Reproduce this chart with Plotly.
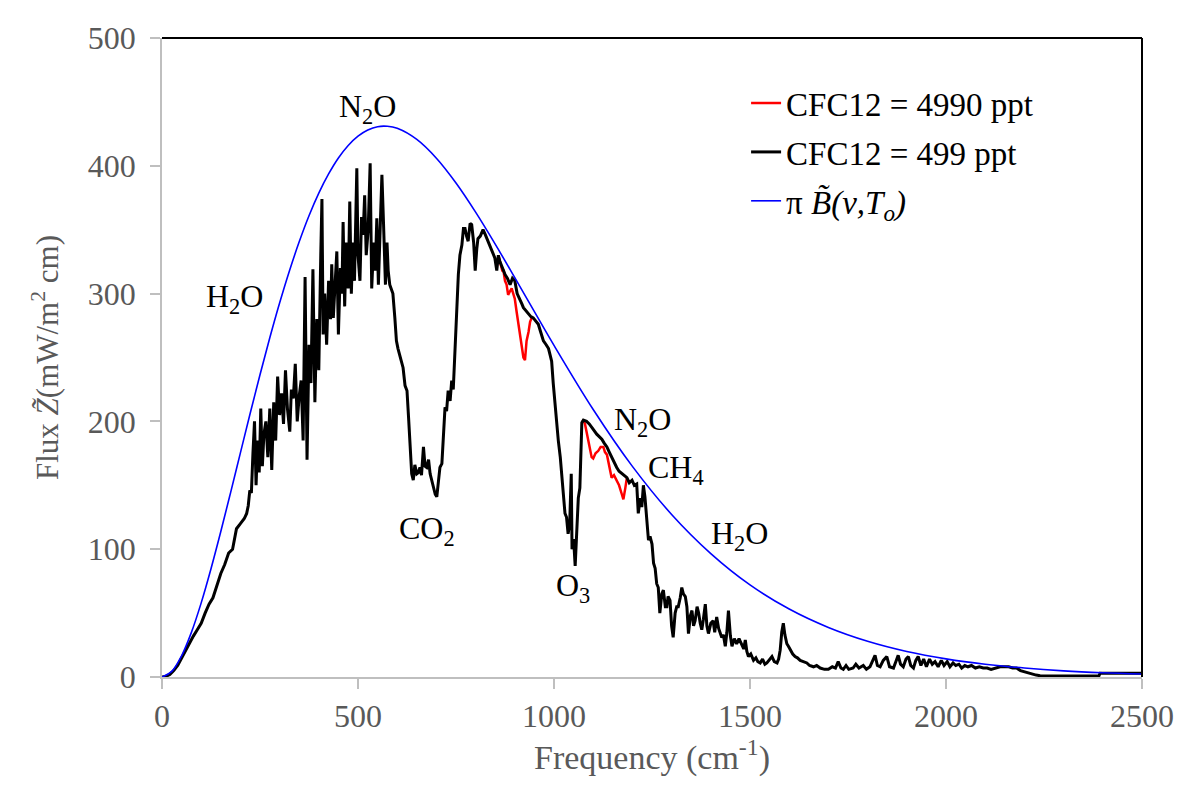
import plotly.graph_objects as go

# ---- data ----
wn_499 = [0,10,20,30,40,50,60,70,80,90,100,110,120,130,140,150,160,170,180,190,200,210,216,220,224,228,232,236,240,244,248,252,256,260,265,270,275,280,285,290,295,300,305,310,315,320,326,330,335,340,345,350,355,360,365,370,375,380,385,390,395,400,405,408,411,415,420,425,430,433,437,441,446,450,455,459,462,466,470,475,479,483,487,491,497,500,505,509,513,517,521,526,531,535,540,544,548,552,556,561,565,570,574,577,581,585,589,594,598,602,608,615,620,625,629,633,637,641,645,650,654,658,662,667,671,675,680,684,690,697,701,705,709,714,718,722,726,730,735,739,743,747,752,756,760,765,769,773,777,781,786,790,795,799,803,806,812,819,825,832,838,844,849,854,858,862,868,875,881,888,894,900,906,913,918,922,928,935,941,947,953,960,966,973,980,986,990,994,998,1003,1007,1011,1016,1020,1024,1028,1032,1036,1040,1044,1046,1050,1054,1058,1062,1066,1069,1071,1075,1083,1090,1096,1102,1109,1115,1122,1128,1135,1141,1147,1153,1160,1166,1173,1180,1186,1192,1199,1205,1211,1215,1220,1224,1228,1232,1236,1241,1245,1250,1254,1258,1262,1266,1270,1275,1279,1284,1288,1291,1296,1300,1304,1309,1313,1317,1322,1326,1330,1335,1339,1343,1348,1352,1356,1360,1365,1369,1373,1377,1381,1386,1390,1394,1400,1406,1410,1415,1420,1428,1432,1437,1441,1445,1450,1454,1460,1466,1472,1479,1484,1488,1492,1496,1502,1509,1515,1520,1526,1532,1538,1543,1550,1556,1562,1569,1573,1577,1581,1585,1589,1594,1598,1603,1609,1615,1621,1628,1635,1645,1652,1662,1670,1679,1690,1700,1710,1718,1725,1732,1738,1745,1752,1763,1770,1778,1789,1797,1806,1812,1819,1825,1832,1840,1849,1856,1866,1872,1878,1884,1891,1898,1904,1910,1917,1923,1929,1936,1943,1950,1958,1965,1972,1980,1988,1995,2003,2010,2018,2025,2033,2040,2048,2056,2065,2075,2085,2095,2105,2115,2125,2138,2150,2160,2170,2180,2190,2200,2210,2220,2230,2240,2300,2390,2393,2500]
flux_499 = [0,0.5,2,5,9,15,21,27,32,37,42,50,57,62,72,81,88,97,100,116,120,124,128,134,146,144,175,200,150,185,160,210,165,190,200,172,210,162,215,185,235,205,222,198,240,210,192,225,218,245,200,220,232,185,313,170,260,230,319,215,280,240,330,374,268,300,260,310,280,323,281,305,333,268,320,300,356,290,340,304,372,300,340,310,398,330,310,360,346,377,330,350,402,304,340,318,359,307,340,393,356,307,340,318,307,304,300,281,263,257,250,242,228,224,203,180,159,154,166,159,160,164,158,180,165,164,170,159,152,143,141,155,164,167,190,211,208,224,216,232,225,257,289,315,330,338,351,351,345,341,355,354,340,318,335,343,345,350,346,341,337,333,328,318,330,325,320,315,312,307,312,310,300,296,292,289,287,284,282,281,279,276,270,263,260,257,252,247,230,211,198,185,172,159,140,128,125,112,120,159,100,108,87,120,140,148,180,199,201,200,198,195,193,190,188,186,183,180,176,172,168,164,161,159,157,156,152,154,150,151,128,140,133,150,141,123,107,110,104,89,85,73,70,50,65,68,55,55,63,60,40,31,50,55,55,62,70,65,63,55,34,48,52,40,44,55,50,42,37,45,57,40,34,42,44,35,47,38,31,33,24,35,52,32,24,30,26,30,26,22,29,20,16,18,13,15,12,11,14,10,11,14,16,12,11,14,21,35,42,33,26,24,21,18,16,15,13,12,11,9,8,9,7,6,6,8,7,12,7,6,9,6,7,10,7,9,6,8,12,17,9,8,13,16,8,7,12,17,10,8,14,16,9,7,13,16,9,14,8,14,10,12,8,13,9,12,8,11,9,10,7,9,8,9,7,8,7,7,6,7,8,8,8,7,7,5,4,3,2,1.5,1,0.8,0.8,3,3]

# CFC12 = 4990 ppt: only where it departs from the 499 ppt curve
wn_4990 = [858,862,868,871,875,879,883,888,892,896,900,905,909,915,922,926,930,935,939,943,947,
           None,
           1071,1075,1079,1083,1087,1092,1096,1100,1106,1113,1119,1126,1130,1135,1141,1147,1153,1160,1166,1173,1177,1182,1186]
flux_4990 = [330,325,318,318,310,307,299,302,304,300,296,285,276,262,250,248,263,270,278,281,281,
             None,
             199,201,198,192,185,176,172,171,175,177,180,180,176,174,165,156,158,154,150,143,139,148,156]

# pi * B(nu, To) curve
wn_planck = [0,25,50,75,100,125,150,175,200,225,250,275,300,325,350,375,400,425,450,475,500,525,550,575,600,650,700,750,800,850,900,950,1000,1100,1200,1300,1400,1500,1600,1700,1800,1900,2000,2100,2200,2300,2400,2500]
flux_planck = [0,4.4,16.6,34.9,58,84.7,113.8,144.3,175.4,206.4,236.5,265.4,292.6,317.7,340.5,360.9,378.6,393.6,406.1,415.9,423.2,428,430.6,430.9,429.3,420.6,405.9,386.5,363.7,338.7,312.5,285.9,259.5,209.3,164.8,127.2,96.6,72.1,53.2,38.8,28,20,14.2,10,7,4.8,3.3,2.3]

x_ticks = [0, 500, 1000, 1500, 2000, 2500]
y_ticks = [0, 100, 200, 300, 400, 500]

labels = [
    ("N<sub>2</sub>O", 523, 445),
    ("H<sub>2</sub>O", 186, 296),
    ("CO<sub>2</sub>", 676, 115),
    ("O<sub>3</sub>", 1049, 70),
    ("N<sub>2</sub>O", 1225, 200),
    ("CH<sub>4</sub>", 1311, 162),
    ("H<sub>2</sub>O", 1474, 111),
]

FONT = "Liberation Serif, Times New Roman, serif"
GREY = "#595959"

fig = go.Figure()
fig.add_trace(go.Scatter(x=wn_4990, y=flux_4990, mode="lines", name="CFC12 = 4990 ppt",
                         line=dict(color="#ff0000", width=2.5), connectgaps=False, legendgroup="a"))
fig.add_trace(go.Scatter(x=wn_499, y=flux_499, mode="lines", name="CFC12 = 499 ppt",
                         line=dict(color="#000000", width=3), legendgroup="b"))
fig.add_trace(go.Scatter(x=wn_planck, y=flux_planck, mode="lines",
                         name="π <i>B&#771;(ν,T<sub>o</sub>)</i>",
                         line=dict(color="#0000ff", width=1.6, shape="spline"), legendgroup="c"))

for txt, lx, ly in labels:
    fig.add_annotation(x=lx, y=ly, text=txt, showarrow=False,
                       font=dict(family=FONT, size=32, color="#000000"))

fig.add_shape(type="line", xref="paper", yref="paper", x0=0, x1=1, y0=1, y1=1,
              line=dict(color="#000000", width=2))
fig.add_shape(type="line", xref="paper", yref="paper", x0=1, x1=1, y0=0, y1=1,
              line=dict(color="#000000", width=2))

fig.update_layout(
    width=1188, height=777,
    margin=dict(l=154, r=54, t=28, b=108),
    paper_bgcolor="white", plot_bgcolor="white",
    font=dict(family=FONT, size=32, color=GREY),
    showlegend=True,
    legend=dict(x=0.596, y=0.942, xanchor="left", yanchor="top",
                font=dict(family=FONT, size=33, color="#000000"),
                bgcolor="rgba(0,0,0,0)", tracegroupgap=3),
    xaxis=dict(range=[0, 2500], tickvals=x_ticks, ticks="outside", ticklen=10,
               tickcolor="#bfbfbf", tickwidth=1.5, showline=True, linecolor="#bfbfbf",
               linewidth=1.5, showgrid=False, zeroline=False,
               tickfont=dict(family=FONT, size=32, color=GREY),
               title=dict(text="Frequency (cm<sup>-1</sup>)", standoff=10,
                          font=dict(family=FONT, size=34, color=GREY))),
    yaxis=dict(range=[0, 500], tickvals=y_ticks, ticks="outside", ticklen=10,
               tickcolor="#bfbfbf", tickwidth=1.5, showline=True, linecolor="#bfbfbf",
               linewidth=1.5, showgrid=False, zeroline=False, ticklabelstandoff=8,
               tickfont=dict(family=FONT, size=32, color=GREY),
               title=dict(text="Flux <i>Z&#771;</i>(mW/m<sup>2</sup> cm)", standoff=20,
                          font=dict(family=FONT, size=31, color=GREY))),
)

fig.write_html("out.html")
